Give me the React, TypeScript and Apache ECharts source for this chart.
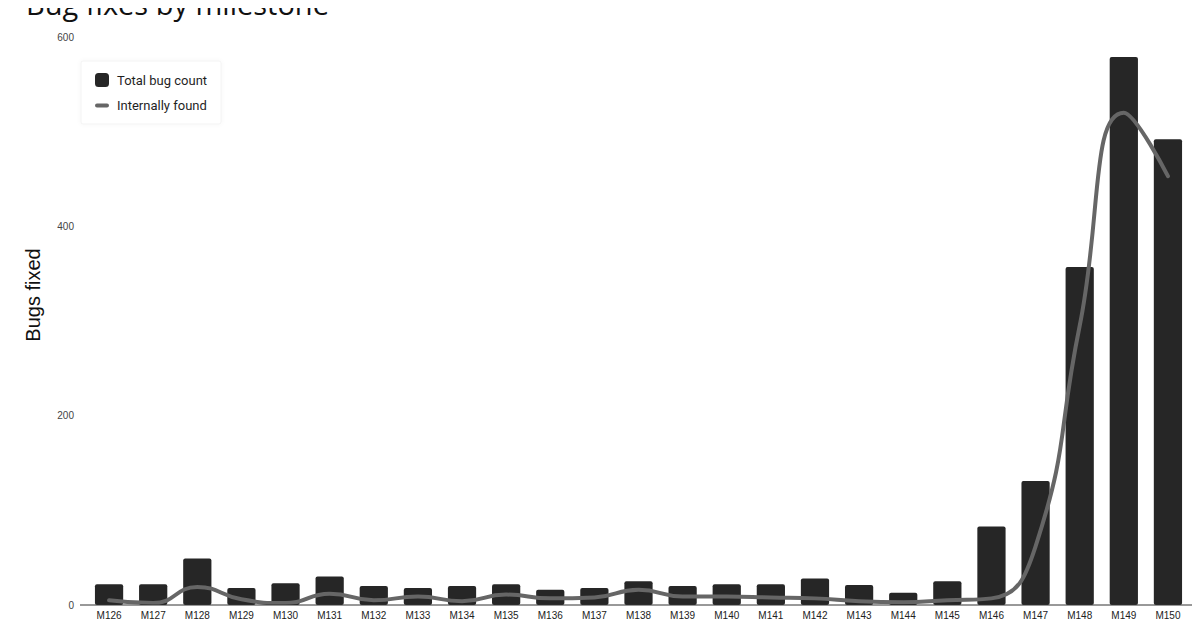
import React, { useEffect, useRef } from "react";
import * as echarts from "echarts";

const categories = [
  "M126", "M127", "M128", "M129", "M130", "M131", "M132", "M133", "M134",
  "M135", "M136", "M137", "M138", "M139", "M140", "M141", "M142", "M143",
  "M144", "M145", "M146", "M147", "M148", "M149", "M150",
];
const totalBugCount = [
  22, 22, 49, 18, 23, 30, 20, 18, 20, 22, 16, 18, 25, 20, 22, 22, 28, 21, 13,
  25, 83, 131, 357, 579, 492,
];
const internallyFound = [
  5, 2, 19, 6, 2, 12, 5, 9, 4, 11, 7, 8, 16, 9, 9, 8, 7, 4, 3, 5, 7, 62, 295,
  520, 453,
];
const yTicks = [0, 200, 400, 600];

export default function App() {
  const ref = useRef<HTMLDivElement>(null);
  useEffect(() => {
    if (!ref.current) return;
    const chart = echarts.init(ref.current, undefined, { renderer: "svg" });
    chart.setOption({
      animation: false,
      backgroundColor: "#ffffff",
      textStyle: { fontFamily: "Roboto" },
      title: {
        text: "Bug fixes by milestone",
        left: 21,
        top: -16,
        textStyle: { fontFamily: "Open Sans", fontSize: 29, fontWeight: "normal", color: "#111111" },
      },
      graphic: [
        {
          type: "text",
          x: 33,
          y: 295,
          rotation: Math.PI / 2,
          style: {
            text: "Bugs fixed",
            fontFamily: "Liberation Sans",
            fontSize: 20,
            fill: "#111111",
            align: "center",
            verticalAlign: "middle",
          },
        },
        {
          type: "line",
          shape: { x1: 80, y1: 605, x2: 1197, y2: 605 },
          style: { stroke: "#333333", lineWidth: 1 },
          z: 10,
        },
      ],
      legend: {
        left: 81,
        top: 61,
        orient: "vertical",
        padding: [12, 14, 12, 14],
        itemGap: 12,
        itemWidth: 14,
        itemHeight: 14,
        backgroundColor: "#ffffff",
        borderColor: "#f3f3f3",
        borderWidth: 1,
        borderRadius: 2,
        shadowColor: "rgba(0,0,0,0.04)",
        shadowBlur: 4,
        textStyle: { fontFamily: "Roboto", fontSize: 13, color: "#1f1f1f", padding: [0, 0, 0, 3] },
        data: [
          { name: "Total bug count", icon: "roundRect" },
          {
            name: "Internally found",
            icon: "path://M2,0 L12,0 A2,2 0 0 1 12,4 L2,4 A2,2 0 0 1 2,0 Z",
          },
        ],
      },
      grid: { left: 87, right: 10, top: 37, bottom: 25, containLabel: false },
      xAxis: {
        type: "category",
        data: categories,
        axisLine: { show: false },
        axisTick: { show: false },
        axisLabel: { fontFamily: "Liberation Sans", fontSize: 10, color: "#222222", margin: 5 },
      },
      yAxis: {
        type: "value",
        min: yTicks[0],
        max: yTicks[yTicks.length - 1],
        interval: 200,
        splitLine: { show: false },
        axisLine: { show: false },
        axisTick: { show: false },
        axisLabel: { fontFamily: "Liberation Sans", fontSize: 10, color: "#444444", margin: 13 },
      },
      series: [
        {
          name: "Total bug count",
          type: "bar",
          data: totalBugCount,
          barCategoryGap: "36%",
          itemStyle: { color: "#262626", borderRadius: 2 },
        },
        {
          name: "Internally found",
          type: "line",
          data: internallyFound,
          smooth: 0.5,
          symbol: "none",
          lineStyle: { color: "#666666", width: 4, cap: "round" },
          itemStyle: { color: "#666666" },
          z: 5,
        },
      ],
    });
    return () => chart.dispose();
  }, []);
  return <div ref={ref} style={{ width: 1200, height: 630, marginLeft: -8, marginTop: -8 }} />;
}
